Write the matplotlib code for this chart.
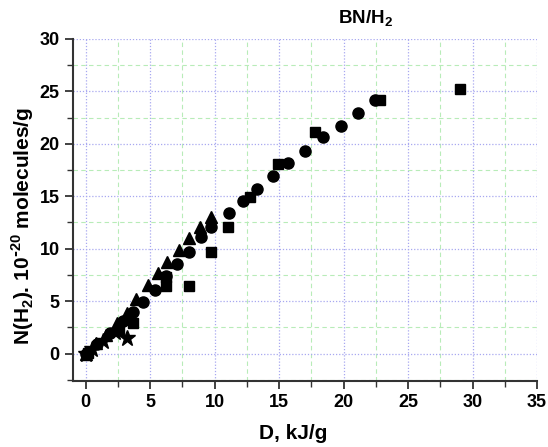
import matplotlib.pyplot as plt
from matplotlib.ticker import MultipleLocator

plt.rcParams['font.family'] = ['Liberation Sans', 'DejaVu Sans']
plt.rcParams['font.weight'] = 'bold'
plt.rcParams['mathtext.fontset'] = 'custom'
plt.rcParams['mathtext.bf'] = 'Liberation Sans:bold'

# circles
circ_x = [0.0, 0.9, 1.9, 2.9, 3.7, 4.45, 5.35, 6.2, 7.1, 8.0, 8.9, 9.7, 11.1, 12.2,
          13.3, 14.5, 15.7, 17.0, 18.4, 19.8, 21.1, 22.4]
circ_y = [0.0, 0.9, 2.0, 3.1, 4.0, 4.9, 6.1, 7.4, 8.5, 9.7, 11.1, 12.1, 13.4, 14.5,
          15.7, 16.9, 18.2, 19.3, 20.6, 21.7, 22.9, 24.2]
# squares
sq_x = [0.2, 2.6, 3.7, 6.2, 6.2, 8.0, 9.7, 11.0, 12.7, 14.9, 17.8, 22.8, 29.0]
sq_y = [0.1, 2.3, 2.9, 6.45, 7.3, 6.45, 9.7, 12.1, 14.9, 18.1, 21.1, 24.2, 25.2]
# triangles
tri_x = [0.0, 0.8, 1.6, 2.4, 3.2, 3.9, 4.8, 5.6, 6.3, 7.2, 8.0, 8.85, 9.7]
tri_y = [0.0, 1.0, 1.8, 2.9, 3.9, 5.2, 6.5, 7.7, 8.7, 9.9, 11.0, 12.05, 13.0]
# stars
star_x = [0.0, 0.5, 1.35, 2.25, 3.2]
star_y = [0.0, 0.4, 1.2, 2.1, 1.5]

fig = plt.figure(figsize=(5.48, 4.47), dpi=100)
ax = fig.add_axes([0.133, 0.148, 0.847, 0.765])

ax.plot(circ_x, circ_y, 'o', color='black', ms=8, zorder=3)
ax.plot(sq_x, sq_y, 's', color='black', ms=7.5, zorder=3)
ax.plot(tri_x, tri_y, '^', color='black', ms=8.5, zorder=3)
ax.plot(star_x, star_y, '*', color='black', ms=12, zorder=3)

ax.set_xlim(-1, 35)
ax.set_ylim(-2.6, 30)
ax.xaxis.set_major_locator(MultipleLocator(5))
ax.xaxis.set_minor_locator(MultipleLocator(2.5))
ax.yaxis.set_major_locator(MultipleLocator(5))
ax.yaxis.set_minor_locator(MultipleLocator(2.5))

ax.grid(which='major', color='#a8a8f0', linestyle=(0, (1, 1.5)), linewidth=0.9)
ax.grid(which='minor', color='#b8ecb8', linestyle=(0, (4, 3)), linewidth=0.8)
ax.set_axisbelow(True)

for s in ['top', 'right']:
    ax.spines[s].set_visible(False)
for s in ['left', 'bottom']:
    ax.spines[s].set_linewidth(1.5)
    ax.spines[s].set_color('#333333')

ax.tick_params(which='major', direction='out', length=6, width=1.3, color='#333333',
               labelsize=13)
ax.tick_params(which='minor', direction='out', length=4, width=1.0, color='#333333')
for lbl in ax.get_xticklabels() + ax.get_yticklabels():
    lbl.set_fontweight('bold')

ax.set_xlabel('D, kJ/g', fontsize=15, fontweight='bold')
ax.set_ylabel(r'N(H$_\mathbf{2}$). 10$^\mathbf{\text{-}20}$ molecules/g', fontsize=15,
              fontweight='bold')
ax.xaxis.set_label_coords(0.474, -0.125)
ax.yaxis.set_label_coords(-0.08, 0.453)
ax.text(0.63, 1.03, r'BN/H$_\mathbf{2}$', transform=ax.transAxes, fontsize=13.5,
        fontweight='bold', ha='center', va='bottom')

fig.savefig('out.png', dpi=100)
